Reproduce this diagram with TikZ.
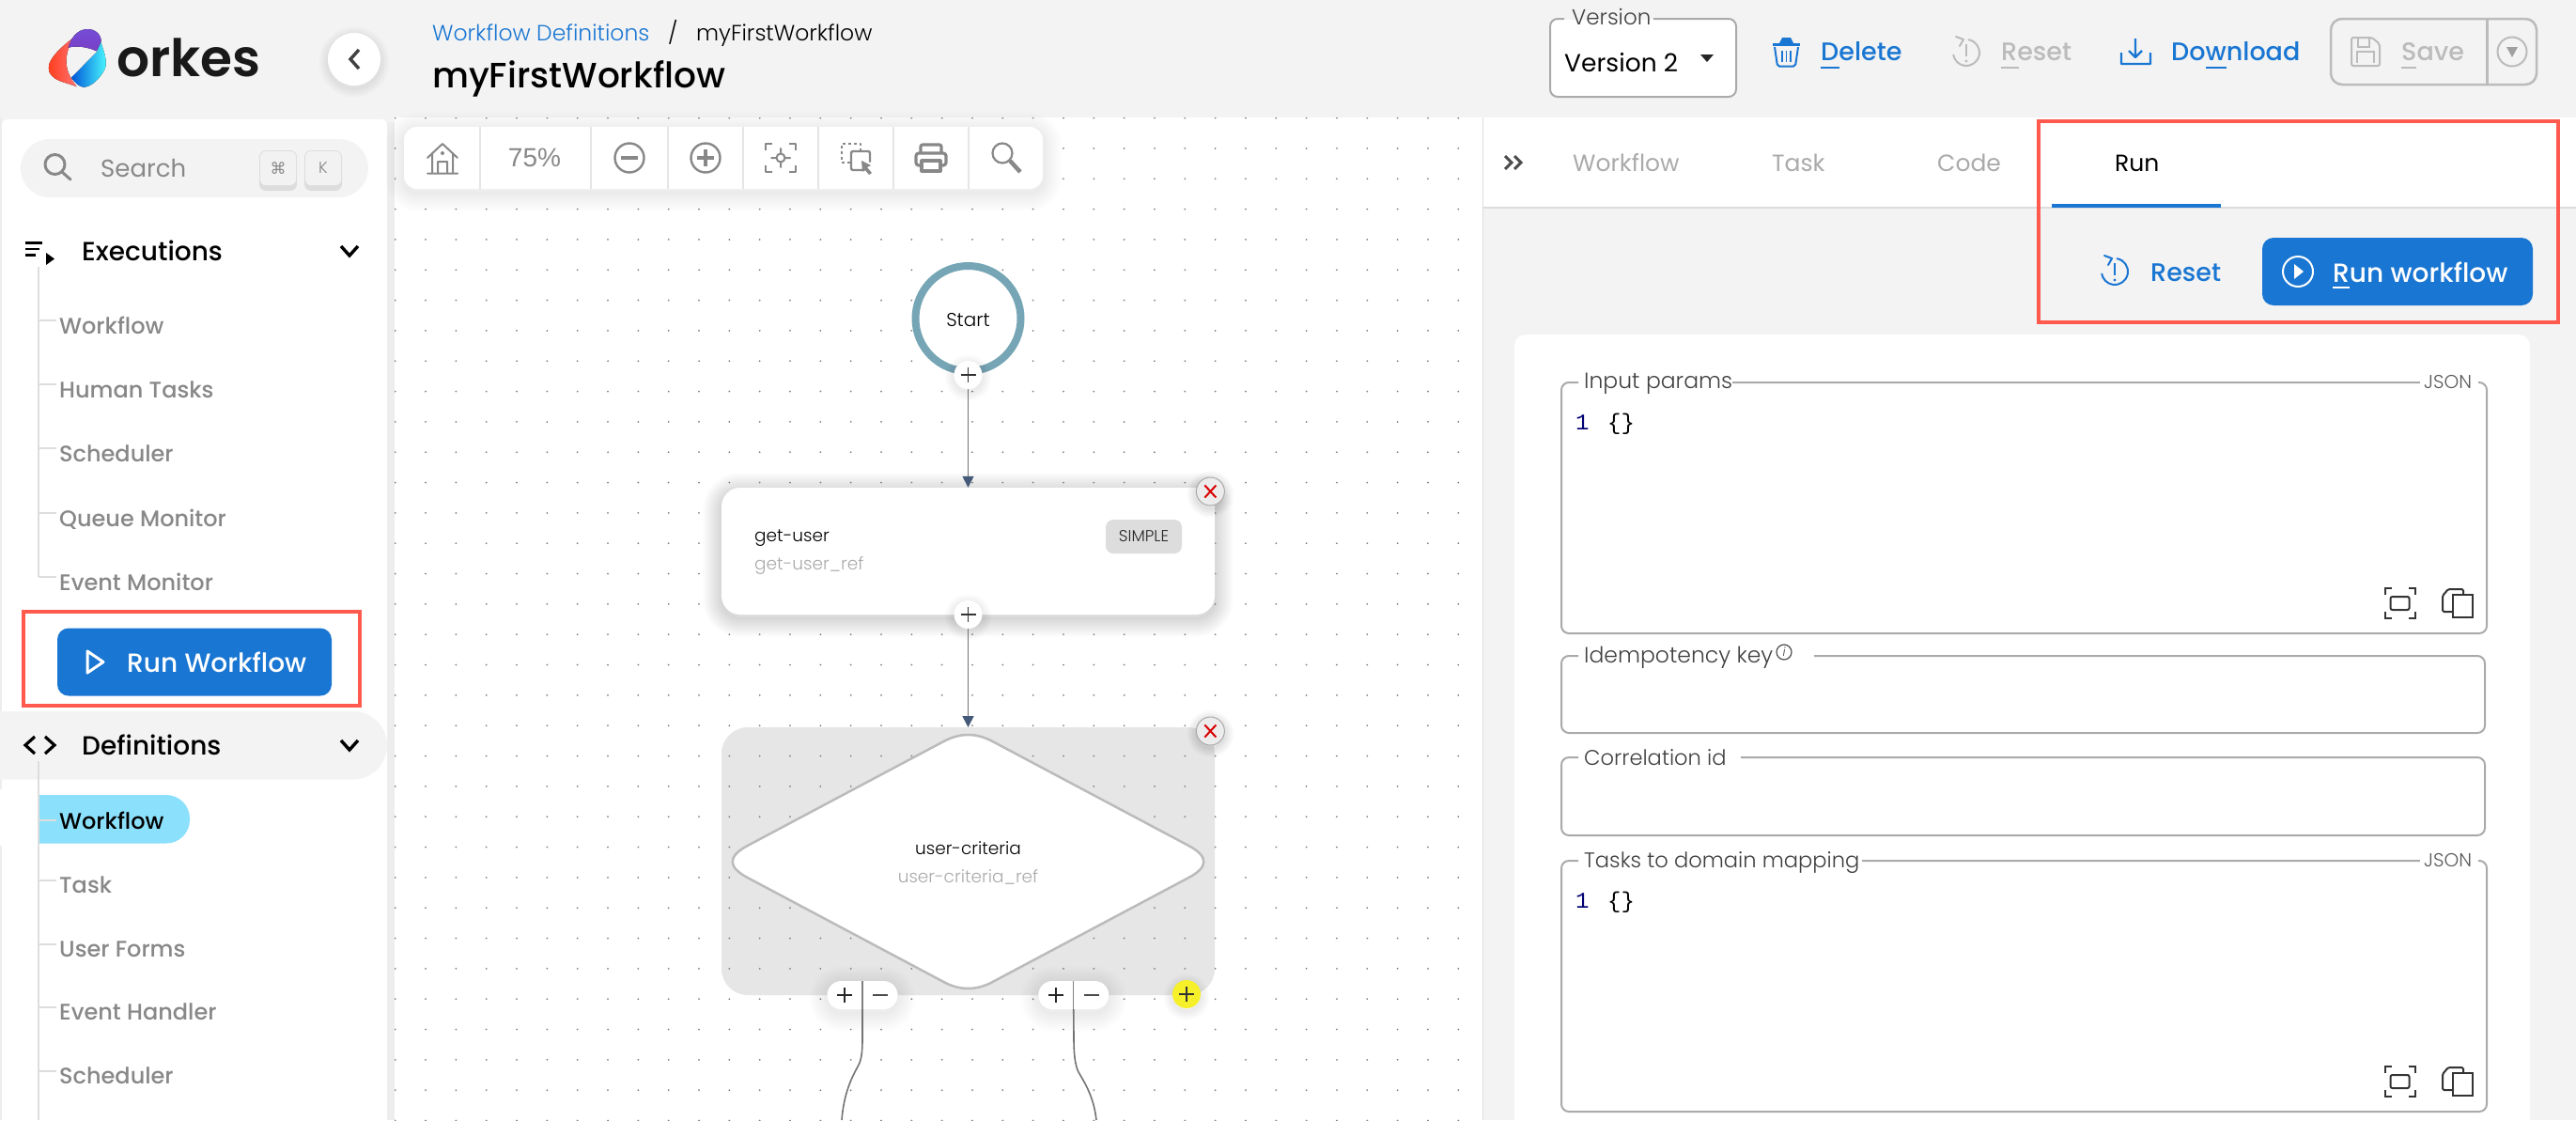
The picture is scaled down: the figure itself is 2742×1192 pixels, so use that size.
\documentclass[tikz,border=0pt]{standalone}
\usepackage{fontspec}
\setmainfont{Poppins}
\newfontfamily\fLight{Poppins Light}
\newfontfamily\fMed{Poppins Medium}
\newfontfamily\fSemi{Poppins SemiBold}
\newfontfamily\fDeja{DejaVu Sans}
\newfontfamily\fArial{Liberation Sans}
\newfontfamily\fMono{Liberation Mono}
\usetikzlibrary{arrows.meta,calc}
\definecolor{bg}{HTML}{F3F3F3}
\definecolor{blue1}{HTML}{1976D2}
\definecolor{redbox}{HTML}{FF5A4D}
\definecolor{g88}{HTML}{888888}
\definecolor{gbb}{HTML}{BBBBBB}
\definecolor{gaa}{HTML}{AAAAAA}
\definecolor{gdd}{HTML}{DDDDDD}
\definecolor{ring}{HTML}{76A5B5}
\definecolor{arrowblue}{HTML}{455A78}
\definecolor{pill}{HTML}{8BE0FB}
\definecolor{grp}{HTML}{E6E6E6}
\definecolor{yel}{HTML}{F6F02B}
\tikzset{
 x=1pt,y=-1pt,
 txt/.style={inner sep=0pt,anchor=mid west},
 ctr/.style={inner sep=0pt,anchor=center},
 dn/.style={yshift=-#1pt},
 nav/.style={txt,dn=7,text=g88,font=\fMed\fontsize{24}{24}\selectfont},
 navhead/.style={txt,dn=7.5,text=black,font=\fMed\fontsize{28}{28}\selectfont},
 action/.style={txt,dn=7,font=\fMed\fontsize{27}{27}\selectfont},
 actionb/.style={txt,dn=7.5,font=\fMed\fontsize{28}{28}\selectfont},
 tabt/.style={txt,dn=7,font=\fontsize{25}{25}\selectfont},
 flabel/.style={txt,dn=5.5,text=black!75,font=\fLight\fontsize{23.5}{24}\selectfont},
 flabelb/.style={txt,dn=5.5,text=black!75,font=\fLight\fontsize{22.6}{24}\selectfont},
 jsonl/.style={txt,dn=4,text=black!65,font=\fLight\fontsize{20}{20}\selectfont},
 nodet/.style={txt,dn=5.5,text=black,font=\fLight\fontsize{18.5}{20}\selectfont},
 noder/.style={txt,dn=5.5,text=gaa,font=\fLight\fontsize{18.5}{20}\selectfont},
 codenum/.style={txt,dn=5,text=blue!45!black,font=\fMono\fontsize{24}{24}\selectfont},
 codetxt/.style={txt,dn=5,text=black,font=\fMono\fontsize{24}{24}\selectfont},
 hl/.style={draw=redbox,line width=4pt,inner sep=0pt},
 bluebtn/.style={fill=blue1,rounded corners=12pt,inner sep=0pt},
 flow/.style={draw=black!55,line width=1.6pt},
 ico/.style={draw=g88,line width=2.4pt,line cap=round,line join=round},
 fieldline/.style={draw=gaa,line width=2pt,rounded corners=8pt},
 tree/.style={draw=gdd,line width=2pt},
 arrowtip/.style={-{Triangle[width=12pt,length=12pt,color=arrowblue]}},
}
% soft shadows
\newcommand\softrect[4]{\foreach \w in {2,4,...,40}{\draw[black,opacity=#4,line width=\w pt,rounded corners=#3 pt,yshift=-4pt] (#1) rectangle (#2);}}
\newcommand\softcirc[3]{\foreach \w in {2,4,...,20}{\draw[black,opacity=#3,line width=\w pt,yshift=-3pt] (#1) circle[radius=#2];}}
\newcommand\plusbtn[4]{% name, x, y, colour
 \softcirc{#2,#3}{15}{.008}
 \node[circle,fill=#4,minimum size=30pt,inner sep=0pt] (#1) at (#2,#3) {};
 \begin{scope}[shift={(#2,#3)}]\draw[black!80,line width=1.5pt] (-8,0)--(8,0) (0,-8)--(0,8);\end{scope}}
\newcommand\closebtn[3]{% name x y
 \softcirc{#2,#3}{15}{.01}
 \node[circle,fill=bg!97!black,draw=gaa,line width=1pt,minimum size=30pt,inner sep=0pt] (#1) at (#2,#3) {};
 \begin{scope}[shift={(#2,#3)}]\draw[red!85!black,line width=2pt] (-6,-6.5)--(6,6.5) (6,-6.5)--(-6,6.5);\end{scope}}
\newcommand\reseticon[3]{% x y colour
 \begin{scope}[shift={(#1,#2)}]
 \draw[draw=#3,line width=2pt,line cap=round] (-80:14) arc[start angle=-80,end angle=170,radius=14];
 \draw[draw=#3,line width=2pt,line cap=round,line join=round] (-11,-17)--(-3,-14)--(-7,-7);
 \draw[draw=#3,line width=2.6pt] (0,-9)--(0,4);
 \fill[#3] (0,9) circle[radius=1.7];
 \end{scope}}
\newcommand\focusicon[2]{%
 \begin{scope}[shift={(#1,#2)},draw=black!80,line width=2pt]
 \draw (-16,-9)--(-16,-16)--(-9,-16) (9,-16)--(16,-16)--(16,-9) (-16,9)--(-16,16)--(-9,16) (9,16)--(16,16)--(16,9);
 \draw[rounded corners=2pt] (-10,-7) rectangle (10,7);
 \end{scope}}
\newcommand\copyicon[2]{%
 \begin{scope}[shift={(#1,#2)},draw=black!80,line width=2pt]
 \draw[rounded corners=1.5pt] (-6,9)--(-17,9)--(-17,-8)--(-11,-15)--(5,-15)--(5,-9);
 \draw (-6,-9) rectangle (15,15);
 \end{scope}}
\newcommand\fieldbox[6]{\draw[fieldline] (#6,#2) -- (#3,#2) -- (#3,#4) -- (#1,#4) -- (#1,#2) -- (#5,#2);}
\begin{document}
\begin{tikzpicture}
\useasboundingbox (0,0) rectangle (2742,1192);
\clip (0,0) rectangle (2742,1192);
\fill[bg] (0,0) rectangle (2742,1192);
% panels
\fill[white!93!black] (0,125) rectangle (2,1192);
\fill[white,rounded corners=6pt] (2,127) -- (412,127) -- (412,1300) -- (2,1300) -- cycle;
\fill[white!93!black] (412,130) rectangle (420,1192);
\fill[white] (420,125) rectangle (1578,1192);
\fill[white] (1578,125) rectangle (2742,221);
\draw[gdd,line width=2pt] (1578,221) -- (2742,221);
\draw[gdd,line width=1pt] (1578,125) -- (1578,1192);

% ---- logo
\begin{scope}[x=.3333pt,y=-.3333pt]
\fill[left color=red!70!orange!90!white,right color=red!55!white] (235,120) .. controls (195,150) and (165,180) .. (157,205) .. controls (150,235) and (170,250) .. (190,258) .. controls (210,266) and (230,270) .. (245,277) .. controls (225,250) and (210,225) .. (212,190) .. controls (213,170) and (218,150) .. (235,120) -- cycle;
\fill[top color=violet!45!blue!70!white,bottom color=violet!60!blue!75!white] (218,152) .. controls (225,125) and (245,92) .. (282,93) .. controls (320,95) and (328,130) .. (320,140) -- (308,163) .. controls (280,150) and (245,145) .. (218,152) -- cycle;
\fill[left color=blue!60!cyan!85!black,right color=cyan!70!white] (322,135) .. controls (330,160) and (345,195) .. (335,220) .. controls (320,250) and (290,280) .. (265,278) .. controls (250,275) and (238,262) .. (228,248) -- (310,165) -- cycle;
\end{scope}
\node[txt,dn=14,text=black!90,font=\fSemi\fontsize{55}{55}\selectfont] (logotext) at (124,65) {orkes};
% back button
\softcirc{377,63}{28}{.008}
\node[circle,fill=white,minimum size=56pt,inner sep=0pt] (backbtn) at (377,63) {};
\draw[black!75,line width=3.4pt] (382,53) -- (373,63) -- (382,73);

% breadcrumbs
\node[txt,dn=5.5,text=blue1,font=\fLight\fontsize{23.5}{24}\selectfont] (crumbA) at (460,35) {Workflow Definitions};
\node[txt,dn=5.5,text=black,font=\fLight\fontsize{23.5}{24}\selectfont] (crumbS) at (711,35) {/};
\node[txt,dn=5.5,text=black,font=\fLight\fontsize{23.5}{24}\selectfont] (crumbB) at (741,35) {myFirstWorkflow};
\node[txt,dn=10,text=black,font=\fMed\fontsize{37.5}{38}\selectfont] (title) at (460,81) {myFirstWorkflow};

% ---- sidebar
\fill[bg,rounded corners=31pt] (22,148) rectangle (392,210);
\draw[ico,line width=3pt] (58.5,175) circle[radius=10.5];
\draw[ico,line width=3pt] (66,183) -- (75,191);
\node[txt,dn=7,text=g88,font=\fontsize{26}{26}\selectfont] (search) at (107,179) {Search};
\foreach \n/\xx/\t in {kA/296/{\fDeja ⌘},kB/344/K}{
 \fill[gdd,rounded corners=7pt] (\xx-20,160) rectangle (\xx+20,203);
 \fill[white!95!black,rounded corners=6pt] (\xx-19,161) rectangle (\xx+19,197);
 \node[ctr,text=g88,font=\fLight\fontsize{17}{17}\selectfont] (\n) at (\xx,179) {\t};
}
% Executions
\draw[black,line width=2.8pt] (27,258.3)--(45,258.3) (27,265)--(41.5,265) (27,271.7)--(38,271.7);
\fill[black] (49,269)--(49,282)--(58,275.5)--cycle;
\node[navhead] (execs) at (87,267) {Executions};
\draw[black,line width=3.4pt] (363,262)--(372,272)--(381,262);
\draw[tree] (41,284)--(41,614);
\foreach \n/\yy/\t in {e1/346/Workflow,e2/414/Human Tasks,e3/482/Scheduler,e4/551/Queue Monitor,e5/619/Event Monitor}{
 \draw[tree] (41,\yy-5) -- (60,\yy-5);
 \node[nav] (\n) at (63,\yy) {\t};
}
\node[hl,minimum width=358pt,minimum height=100pt] (redA) at (204,701) {};
\node[bluebtn,minimum width=292pt,minimum height=72pt] (runA) at (207,704.5) {};
\draw[white,line width=3pt,line join=round] (93,693)--(93,716)--(110,704.5)--cycle;
\node[actionb,text=white] (runAt) at (135,705) {Run Workflow};
% Definitions
\fill[bg,rounded corners=36pt] (-60,757) rectangle (412,829.5);
\draw[black,line width=3.2pt] (37,784)--(27,793)--(37,802) (48,784)--(58,793)--(48,802);
\node[navhead] (defs) at (87,793) {Definitions};
\draw[black,line width=3.4pt] (363,788)--(372,798)--(381,788);
\fill[pill,rounded corners=25pt] (0,846) rectangle (202,897.5);
\fill[white] (0,840) rectangle (41,900);
\draw[tree] (41,810)--(41,1192);
\draw[tree] (41,872.5)--(60,872.5);
\node[nav,text=black] (d1) at (63,872.5) {Workflow};
\foreach \n/\yy/\t in {d2/940.5/Task,d3/1008.5/User Forms,d4/1076/Event Handler,d5/1144/Scheduler}{
 \draw[tree] (41,\yy-4) -- (60,\yy-4);
 \node[nav] (\n) at (63,\yy) {\t};
}

% ---- canvas: shadows, group, dots
\softrect{768,519}{1293,654}{20}{.007}
\softrect{430,135}{1110,201}{14}{.0025}
\fill[grp,rounded corners=28pt] (768,774) rectangle (1293,1059);
\begin{scope}
\clip (420,125) rectangle (1578,1192);
\foreach \i in {0,...,36}{\foreach \j in {0,...,33}{
 \fill[black!50] (420.7+32.33*\i,125.6+32.33*\j) circle[radius=1];
}}
\end{scope}
% toolbar
\node[fill=white,rounded corners=14pt,minimum width=680pt,minimum height=66pt,inner sep=0pt] (toolbar) at (770,168) {};
\foreach \xx in {511,629,711,791,871,951,1031}{\draw[white!90!black,line width=2pt] (\xx,135)--(\xx,201);}
\draw[ico,line width=2pt] (455,168)--(471,153)--(487,168) (460,164)--(460,183) (482,164)--(482,183) (455,184.5)--(487,184.5) (466,184)--(466,172)--(476,172)--(476,184);
\fill[g88] (471,163) circle[radius=2];
\node[ctr,text=g88,font=\fArial\fontsize{28}{28}\selectfont] (zoomval) at (569,168) {75\%};
\draw[ico] (670,168) circle[radius=15.5];
\draw[g88,line width=4pt] (661,168)--(679,168);
\draw[ico] (751,168) circle[radius=15.5];
\draw[g88,line width=4pt] (742,168)--(760,168) (751,159)--(751,177);
\draw[ico,line cap=butt] (815,160)--(815,153)--(822,153) (840,153)--(847,153)--(847,160) (815,176)--(815,183)--(822,183) (840,183)--(847,183)--(847,176);
\draw[ico,line width=2pt] (831,168) circle[radius=4.5] (831,158)--(831,163) (831,173)--(831,178) (821,168)--(826,168) (836,168)--(841,168);
\draw[ico,line width=2pt,dash pattern=on 3pt off 3pt,line cap=butt] (905,173)--(896,173)--(896,153)--(916,153)--(916,161);
\draw[ico,line width=2.4pt,rounded corners=2pt] (920,181)--(906,181)--(906,161)--(926,161)--(926,172);
\fill[g88] (917,171)--(927,176)--(923,178)--(928,184)--(925,186)--(920,180)--(918,183)--cycle;
\draw[ico,line width=3.2pt,rounded corners=2pt] (980,162)--(980,154)--(1002,154)--(1002,162);
\draw[ico,line width=3.2pt,rounded corners=3pt] (980,176)--(975,176)--(975,163)--(1007,163)--(1007,176)--(1002,176);
\draw[ico,line width=3.2pt] (981,171) rectangle (1001,182);
\draw[ico,line width=2.2pt] (1067,163) circle[radius=10.5];
\draw[g88,line width=4.5pt] (1075,171)--(1086,183);

% ---- workflow nodes
\node[circle,draw=ring,fill=white,line width=8pt,minimum size=112pt,inner sep=0pt] (start) at (1030.5,339) {};
\node[ctr,text=black,font=\fLight\fontsize{20}{20}\selectfont] (startt) at (1030.5,341) {Start};
\plusbtn{plusA}{1030.5}{399}{white}
\node[fill=white,rounded corners=20pt,minimum width=525pt,minimum height=135pt,inner sep=0pt] (taskbox) at (1030.5,586.5) {};
\draw[flow,arrowtip] (plusA) -- (taskbox.north);
\closebtn{closeA}{1288.4}{523}
\node[nodet] (taskt) at (803,568) {get-user};
\node[noder] (taskr) at (803,598) {get-user\_ref};
\node[fill=gdd,rounded corners=8pt,minimum width=81pt,minimum height=36pt,inner sep=0pt,text=black!85,font=\fLight\fontsize{17}{17}\selectfont] (chip) at (1217.5,571) {SIMPLE};
\plusbtn{plusB}{1030.5}{654}{white}
\coordinate (grpN) at (1030.5,774);
\draw[flow,arrowtip] (plusB) -- (grpN);
% diamond
\draw[gbb,line width=2.5pt,fill=white] (1004.5,789) .. controls (1021.8,779.7) and (1039.2,779.7) .. (1056.5,789) -- (1265.3,900) .. controls (1286.6,911.3) and (1286.6,922.7) .. (1265.3,934) -- (1056.5,1045) .. controls (1039.2,1054.3) and (1021.8,1054.3) .. (1004.5,1045) -- (795.7,934) .. controls (774.4,922.7) and (774.4,911.3) .. (795.7,900) -- cycle;
\node[ctr,text=black,font=\fLight\fontsize{18.5}{20}\selectfont] (dit) at (1030.5,903) {user-criteria};
\node[ctr,text=gaa,font=\fLight\fontsize{18.5}{20}\selectfont] (dir) at (1030.5,933) {user-criteria\_ref};
\closebtn{closeB}{1288.4}{778}
% pills
\foreach \n/\cx in {pillL/918,pillR/1142.75}{
 \softrect{\cx-37,1044}{\cx+37,1074}{15}{.004}
 \node[fill=white,rounded corners=15pt,minimum width=75pt,minimum height=30pt,inner sep=0pt] (\n) at (\cx,1059) {};
 \draw[black!50,line width=1.4pt] (\cx,1044)--(\cx,1074);
 \draw[black!85,line width=1.5pt] (\cx-27,1059)--(\cx-11,1059) (\cx-19,1051)--(\cx-19,1067);
 \draw[black!70,line width=2.4pt] (\cx+11,1059)--(\cx+27,1059);
}
\plusbtn{plusY}{1263}{1058}{yel}
\coordinate (endL) at (896,1192);
\coordinate (endR) at (1167,1192);
\draw[flow] (pillL.south) -- (918,1105) .. controls (918,1125) and (916,1130) .. (912,1137) .. controls (906,1148) and (898,1165) .. (endL);
\draw[flow] (pillR.south) -- (1143,1105) .. controls (1143,1125) and (1145,1134) .. (1147.5,1140) .. controls (1153,1150) and (1164,1165) .. (endR);

% ---- top right bar
\draw[draw=gaa,fill=white,line width=2pt,rounded corners=8pt] (1665,20) -- (1650,20) -- (1650,103) -- (1848,103) -- (1848,20) -- (1760,20);
\fill[bg] (1666,12) rectangle (1759,20.9);
\node[txt,dn=5.5,text=black!75,font=\fLight\fontsize{23}{23}\selectfont] (verl) at (1673,18) {Version};
\node[txt,dn=7,text=black,font=\fontsize{26.5}{26.5}\selectfont] (verv) at (1665,67) {Version 2};
\fill[black!85] (1810,58)--(1824,58)--(1817,66)--cycle;
% delete
\begin{scope}[blue1]
\fill (1894,46)--(1897,40)--(1906,40)--(1909,46)--cycle;
\draw[line width=3pt] (1887,47.5)--(1916,47.5);
\draw[line width=2pt,rounded corners=2pt] (1889,50)--(1892,70.5)--(1911,70.5)--(1914,50);
\draw[line width=1.5pt] (1897,54)--(1897,66) (1901.5,54)--(1901.5,66) (1906,54)--(1906,66);
\end{scope}
\node[action,text=blue1] (delt) at (1938,55) {Delete};
\draw[blue1,line width=2.5pt] (1938,72)--(1958,72);
\reseticon{2093}{56}{gbb}
\node[action,text=gbb] (rest) at (2130,55) {Reset};
\draw[gbb,line width=2.5pt] (2130,72)--(2149,72);
\draw[blue1,line width=2.2pt,line join=round] (2258,56)--(2258,68)--(2289,68)--(2289,56) (2273,41)--(2273,61) (2266,54)--(2273,61)--(2280,54);
\node[action,text=blue1] (dlt) at (2311,55) {Download};
\draw[blue1,line width=2.5pt] (2348,72)--(2370,72);
% save
\draw[gbb,line width=2.5pt,rounded corners=12pt] (2481,20) rectangle (2700,90);
\draw[gbb,line width=3pt] (2647,20)--(2647,90);
\draw[gbb,line width=2pt,rounded corners=2pt] (2503,40)--(2525,40)--(2533,47)--(2533,70)--(2503,70)--cycle;
\draw[gbb,line width=2pt] (2510,40)--(2510,50)--(2522,50)--(2522,40) (2509,67)--(2509,55)--(2527,55)--(2527,67);
\node[action,text=gbb] (savet) at (2556,55) {Save};
\draw[gbb,line width=2.5pt] (2556,72)--(2572,72);
\draw[gbb,line width=2pt] (2674,55) circle[radius=15.5];
\fill[g88!80!white] (2668,50)--(2680,50)--(2674,61)--cycle;

% ---- tabs
\draw[black!70,line width=3pt] (1602,166)--(1609,173)--(1602,180) (1612,166)--(1619,173)--(1612,180);
\node[tabt,text=gaa] (tabA) at (1674,173) {Workflow};
\node[tabt,text=gaa] (tabB) at (1886,173) {Task};
\node[tabt,text=gaa] (tabC) at (2062,173) {Code};
\node[tabt,text=black] (tabD) at (2251,173) {Run};
\fill[blue1] (2184,217) rectangle (2364,221);
\reseticon{2251}{289}{blue1}
\node[action,text=blue1] (resB) at (2289,290) {Reset};
\node[bluebtn,minimum width=288pt,minimum height=72pt] (runB) at (2552,289) {};
\draw[white,line width=2pt] (2446,289) circle[radius=16];
\fill[white] (2442,281)--(2442,297)--(2452,289)--cycle;
\node[actionb,text=white] (runBt) at (2483,290) {Run workflow};
\draw[white,line width=2.5pt] (2483,306)--(2501,306);
\node[hl,minimum width=553pt,minimum height=214pt] (redB) at (2446.5,236) {};

% ---- form card
\fill[white,rounded corners=12pt] (1612,356) rectangle (2693,1300);
\fieldbox{1662}{407}{2647}{674}{1680}{1844}
\fill[white] (2576,400) rectangle (2638,414);
\node[flabel] (fA) at (1686,405) {Input params};
\node[jsonl] (jA) at (2580,407) {JSON};
\node[codenum] (nA) at (1677,450) {1};
\node[codetxt] (cA) at (1711,450) {\{\}};
\focusicon{2554.5}{642}
\copyicon{2617}{642}
\fieldbox{1662}{698}{2645}{780}{1680}{1931}
\node[flabel] (fB) at (1686,697) {Idempotency key};
\draw[black!70,line width=1.2pt] (1899,694) circle[radius=8];
\node[ctr,text=black!70,font=\fLight\itshape\fontsize{13}{13}\selectfont] (infoi) at (1899,694) {i};
\fieldbox{1662}{806}{2645}{889}{1680}{1853}
\node[flabelb] (fC) at (1686,806) {Correlation id};
\fieldbox{1662}{916}{2647}{1183}{1680}{1982}
\fill[white] (2576,909) rectangle (2638,923);
\node[flabelb] (fD) at (1686,915) {Tasks to domain mapping};
\node[jsonl] (jD) at (2580,916) {JSON};
\node[codenum] (nD) at (1677,959) {1};
\node[codetxt] (cD) at (1711,959) {\{\}};
\focusicon{2554.5}{1151}
\copyicon{2617}{1151}
\end{tikzpicture}
\end{document}
